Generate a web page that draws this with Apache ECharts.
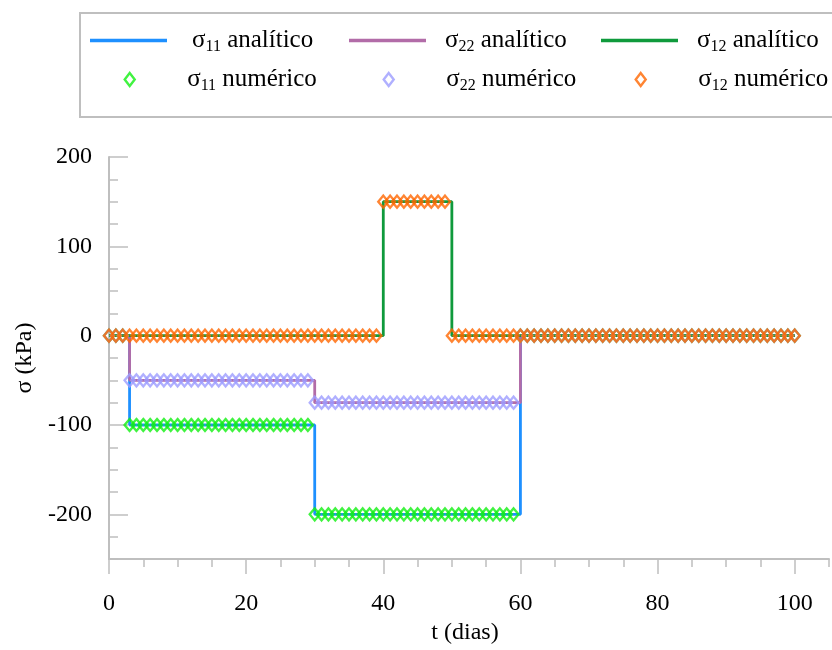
<!DOCTYPE html>
<html>
<head>
<meta charset="utf-8">
<script src="https://cdn.jsdelivr.net/npm/echarts@6/dist/echarts.min.js"></script>
<style>
html,body{margin:0;padding:0;background:#fff;}
#chart{width:832px;height:650px;}
</style>
</head>
<body>
<div id="chart"></div>
<script>
// ---------- data ----------
const tNum = [0,1,2,3,4,5,6,7,8,9,10,11,12,13,14,15,16,17,18,19,20,21,22,23,24,25,26,27,28,29,30,31,32,33,34,35,36,37,38,39,40,41,42,43,44,45,46,47,48,49,50,51,52,53,54,55,56,57,58,59,60,61,62,63,64,65,66,67,68,69,70,71,72,73,74,75,76,77,78,79,80,81,82,83,84,85,86,87,88,89,90,91,92,93,94,95,96,97,98,99,100];
const s11Num = [0,0,0,-100,-100,-100,-100,-100,-100,-100,-100,-100,-100,-100,-100,-100,-100,-100,-100,-100,-100,-100,-100,-100,-100,-100,-100,-100,-100,-100,-200,-200,-200,-200,-200,-200,-200,-200,-200,-200,-200,-200,-200,-200,-200,-200,-200,-200,-200,-200,-200,-200,-200,-200,-200,-200,-200,-200,-200,-200,0,0,0,0,0,0,0,0,0,0,0,0,0,0,0,0,0,0,0,0,0,0,0,0,0,0,0,0,0,0,0,0,0,0,0,0,0,0,0,0,0];
const s22Num = [0,0,0,-50,-50,-50,-50,-50,-50,-50,-50,-50,-50,-50,-50,-50,-50,-50,-50,-50,-50,-50,-50,-50,-50,-50,-50,-50,-50,-50,-75,-75,-75,-75,-75,-75,-75,-75,-75,-75,-75,-75,-75,-75,-75,-75,-75,-75,-75,-75,-75,-75,-75,-75,-75,-75,-75,-75,-75,-75,0,0,0,0,0,0,0,0,0,0,0,0,0,0,0,0,0,0,0,0,0,0,0,0,0,0,0,0,0,0,0,0,0,0,0,0,0,0,0,0,0];
const s12Num = [0,0,0,0,0,0,0,0,0,0,0,0,0,0,0,0,0,0,0,0,0,0,0,0,0,0,0,0,0,0,0,0,0,0,0,0,0,0,0,0,150,150,150,150,150,150,150,150,150,150,0,0,0,0,0,0,0,0,0,0,0,0,0,0,0,0,0,0,0,0,0,0,0,0,0,0,0,0,0,0,0,0,0,0,0,0,0,0,0,0,0,0,0,0,0,0,0,0,0,0,0];

const tAna11 = [0, 3, 30, 60, 100];
const s11Ana = [0, -100, -200, 0, 0];
const tAna22 = [0, 3, 30, 60, 100];
const s22Ana = [0, -50, -75, 0, 0];
const tAna12 = [0, 40, 50, 100];
const s12Ana = [0, 150, 0, 0];

const xMajorTicks = [0, 20, 40, 60, 80, 100];
const yMajorTicks = [-200, -100, 0, 100, 200];

const names = {
  a11: 'σ11 analítico', a22: 'σ22 analítico', a12: 'σ12 analítico',
  n11: 'σ11 numérico', n22: 'σ22 numérico', n12: 'σ12 numérico'
};

// ---------- helpers ----------
const FONT = 'Liberation Serif';
const AXIS_GRAY = '#BFBFBF';
function pairs(xs, ys) { return xs.map((x, i) => [x, ys[i]]); }

function legendFormatter(name) {
  const m = name.match(/^σ(\d\d) (.*)$/);
  return '{sp|}{t|σ}{sub|' + m[1] + '}{t| ' + m[2] + '}';
}
// diamond centred in a 77x13 box (tiny anchor segments fix the bounding box)
const DIAMOND = 'path://M0,6.5L0.01,6.5M77,6.5L76.99,6.5M38.5,0L43.5,6.5L38.5,13L33.5,6.5Z';
const BAR = 'path://M0,0L77,0L77,3.6L0,3.6Z';
function mkLegend(name, left, top, spacer, isMarker) {
  return {
    data: [{ name: name, icon: isMarker ? DIAMOND : BAR }],
    left: left, top: top, padding: 0, itemGap: 0,
    itemWidth: 77, itemHeight: isMarker ? 13 : 14,
    selectedMode: false,
    itemStyle: isMarker ? { borderWidth: 2.4 } : { borderWidth: 0 },
    formatter: legendFormatter,
    textStyle: {
      fontFamily: FONT, fontSize: 25, color: '#000',
      rich: {
        sp: { width: spacer },
        t: { fontFamily: FONT, fontSize: 25, color: '#000', lineHeight: 28 },
        sub: { fontFamily: FONT, fontSize: 16, color: '#000', verticalAlign: 'bottom', lineHeight: 16, padding: [5, 0, 0, 0] }
      }
    }
  };
}

function lineSeries(name, xs, ys, color) {
  return {
    name: name, type: 'line', step: 'end', data: pairs(xs, ys),
    symbol: 'none', lineStyle: { color: color, width: 2.8 }, itemStyle: { color: color },
    xAxisIndex: 0, yAxisIndex: 0, animation: false, z: 2
  };
}
function markerSeries(name, xs, ys, color) {
  return {
    name: name, type: 'scatter', data: pairs(xs, ys),
    symbol: 'diamond', symbolSize: [10, 12],
    itemStyle: { color: 'rgba(255,255,255,0)', borderColor: color, borderWidth: 2.4 },
    xAxisIndex: 0, yAxisIndex: 0, animation: false, z: 3
  };
}

const chart = echarts.init(document.getElementById('chart'), null, { renderer: 'canvas' });

const option = {
  backgroundColor: '#fff',
  animation: false,
  grid: { left: 109, right: 3, top: 157, bottom: 91, containLabel: false },
  graphic: [{
    type: 'rect', shape: { x: 80, y: 13, width: 780, height: 104 },
    style: { fill: 'none', stroke: AXIS_GRAY, lineWidth: 2 }, silent: true
  }],
  legend: [
    mkLegend(names.a11, 90, 28, 20, false),
    mkLegend(names.a22, 349, 28, 14, false),
    mkLegend(names.a12, 601, 28, 14, false),
    mkLegend(names.n11, 90, 67, 14, true),
    mkLegend(names.n22, 349, 67, 14, true),
    mkLegend(names.n12, 601, 67, 14, true)
  ],
  xAxis: [{
    type: 'value', min: 0, max: 105, interval: 5, position: 'bottom',
    axisLine: { show: true, onZero: false, lineStyle: { color: AXIS_GRAY, width: 2 } },
    axisTick: { show: true, inside: false, length: 8, lineStyle: { color: AXIS_GRAY, width: 1.5 } },
    axisLabel: { show: false }, splitLine: { show: false }
  }, {
    type: 'value', min: 0, max: 105, position: 'bottom',
    name: 't (dias)', nameLocation: 'middle', nameGap: 62,
    nameTextStyle: { fontFamily: FONT, fontSize: 24, color: '#000', padding: [0, 8, 0, 0] },
    axisLine: { show: false, onZero: false },
    axisTick: { show: true, inside: false, length: 15, customValues: xMajorTicks, lineStyle: { color: AXIS_GRAY, width: 1.5 } },
    axisLabel: { show: true, customValues: xMajorTicks, margin: 33, fontFamily: FONT, fontSize: 24, color: '#000' },
    splitLine: { show: false }
  }],
  yAxis: [{
    type: 'value', min: -250, max: 200, interval: 25, position: 'left',
    axisLine: { show: true, onZero: false, lineStyle: { color: AXIS_GRAY, width: 2 } },
    axisTick: { show: true, inside: true, length: 9, lineStyle: { color: AXIS_GRAY, width: 1.5 } },
    axisLabel: { show: false }, splitLine: { show: false }
  }, {
    type: 'value', min: -250, max: 200, position: 'left',
    name: 'σ (kPa)', nameLocation: 'middle', nameGap: 72,
    nameTextStyle: { fontFamily: FONT, fontSize: 24, color: '#000' },
    axisLine: { show: false, onZero: false },
    axisTick: { show: true, inside: true, length: 19, customValues: yMajorTicks, lineStyle: { color: AXIS_GRAY, width: 1.5 } },
    axisLabel: { show: true, customValues: yMajorTicks, margin: 17, fontFamily: FONT, fontSize: 24, color: '#000' },
    splitLine: { show: false }
  }],
  series: [
    lineSeries(names.a11, tAna11, s11Ana, '#1E90FF'),
    lineSeries(names.a22, tAna22, s22Ana, '#B26CA8'),
    lineSeries(names.a12, tAna12, s12Ana, '#0F9A3C'),
    markerSeries(names.n11, tNum, s11Num, '#11F011'),
    markerSeries(names.n22, tNum, s22Num, '#9C9CFF'),
    markerSeries(names.n12, tNum, s12Num, '#FF6600')
  ]
};
chart.setOption(option);
</script>
</body>
</html>
